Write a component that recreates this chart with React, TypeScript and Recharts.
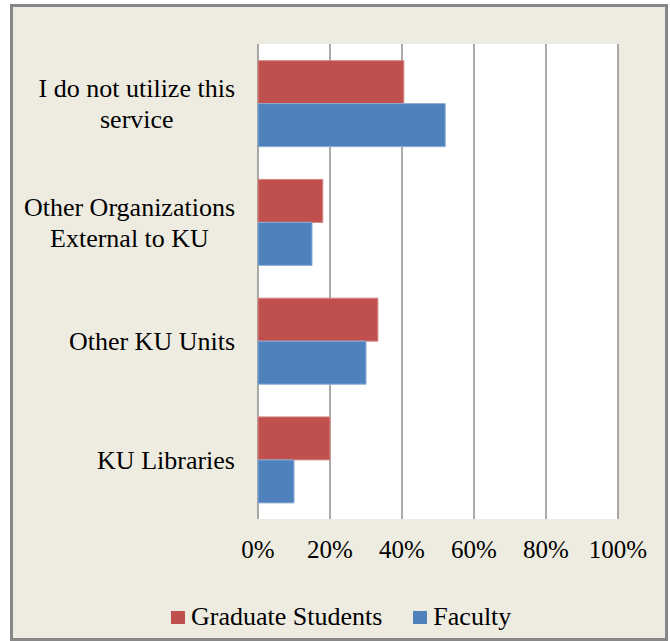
import React from 'react';
import { BarChart, Bar, XAxis, YAxis, CartesianGrid } from 'recharts';

const categories = [
  'I do not utilize this\nservice',
  'Other Organizations\nExternal to KU',
  'Other KU Units',
  'KU Libraries',
];
const graduateStudents = [0.405, 0.18, 0.333, 0.2];
const faculty = [0.52, 0.15, 0.30, 0.10];
const xTicks = [0, 0.2, 0.4, 0.6, 0.8, 1];

const series = [
  { key: 'grad', name: 'Graduate Students', color: '#C0504D', stroke: '#D48886', values: graduateStudents },
  { key: 'faculty', name: 'Faculty', color: '#4F81BD', stroke: '#8AAAD3', values: faculty },
];

const data = categories.map((name, i) => {
  const row: Record<string, any> = { name };
  series.forEach((s) => { row[s.key] = s.values[i]; });
  return row;
});

const FONT = "'Liberation Serif', Tinos, 'Times New Roman', Times, 'DejaVu Serif', serif";
const LABEL_SIZE = 26;
const LINE_H = 31;

let ctx: CanvasRenderingContext2D | null = null;
const measure = (txt: string) => {
  if (!ctx) {
    ctx = document.createElement('canvas').getContext('2d');
  }
  if (!ctx) return txt.length * 12;
  ctx.font = `${LABEL_SIZE}px ${FONT}`;
  return ctx.measureText(txt).width;
};

const CategoryTick = (props: any) => {
  const { x, y, payload } = props;
  const lines: string[] = String(payload.value).split('\n');
  const widest = Math.max(...lines.map(measure));
  const right = x - 21;
  const cx = right - widest / 2;
  return (
    <g>
      {lines.map((ln, i) => (
        <text
          key={i}
          x={cx}
          y={y + (i - (lines.length - 1) / 2) * LINE_H + 9}
          textAnchor="middle"
          style={{ fontFamily: FONT }}
          fontSize={LABEL_SIZE}
          fill="#000"
        >
          {ln}
        </text>
      ))}
    </g>
  );
};

const App = () => {
  return (
    <div style={{ position: 'absolute', left: 0, top: 0, width: 670, height: 641, overflow: 'hidden' }}>
      <div
        style={{
          position: 'absolute',
          left: 10,
          top: 4,
          width: 652,
          height: 631,
          background: '#EEECE1',
          border: '3px solid #878787',
        }}
      />
      <div style={{ position: 'absolute', left: 0, top: 0 }}>
        <BarChart
          width={670}
          height={641}
          data={data}
          layout="vertical"
          margin={{ top: 44, right: 52, bottom: 72, left: 0 }}
          barCategoryGap="14%"
          barGap={0}
        >
          <CartesianGrid horizontal={false} stroke="#8E8E8E" strokeWidth={1.5} fill="#FFFFFF" />
          <XAxis
            type="number"
            domain={[0, 1]}
            ticks={xTicks}
            tickFormatter={(v: number) => `${Math.round(v * 100)}%`}
            axisLine={false}
            tickLine={false}
            tickSize={0}
            tickMargin={21}
            height={50}
            tick={{ style: { fontFamily: FONT }, fontSize: 25, fill: '#000' }}
          />
          <YAxis
            type="category"
            dataKey="name"
            width={258}
            axisLine={false}
            tickLine={false}
            tickSize={0}
            tick={<CategoryTick />}
          />
          {series.map((s) => (
            <Bar
              key={s.key}
              dataKey={s.key}
              name={s.name}
              fill={s.color}
              stroke={s.stroke}
              strokeWidth={1}
              isAnimationActive={false}
            />
          ))}
        </BarChart>
      </div>
      <div
        style={{
          position: 'absolute',
          left: 171,
          top: 602,
          display: 'flex',
          alignItems: 'center',
          fontFamily: FONT,
          fontSize: LABEL_SIZE,
          lineHeight: '30px',
          color: '#000',
        }}
      >
        {series.map((s, i) => (
          <div key={s.key} style={{ display: 'flex', alignItems: 'center', marginRight: i === 0 ? 31 : 0 }}>
            <span style={{ display: 'inline-block', width: 14, height: 13, background: s.color, marginRight: 6 }} />
            <span>{s.name}</span>
          </div>
        ))}
      </div>
    </div>
  );
};

export default App;
